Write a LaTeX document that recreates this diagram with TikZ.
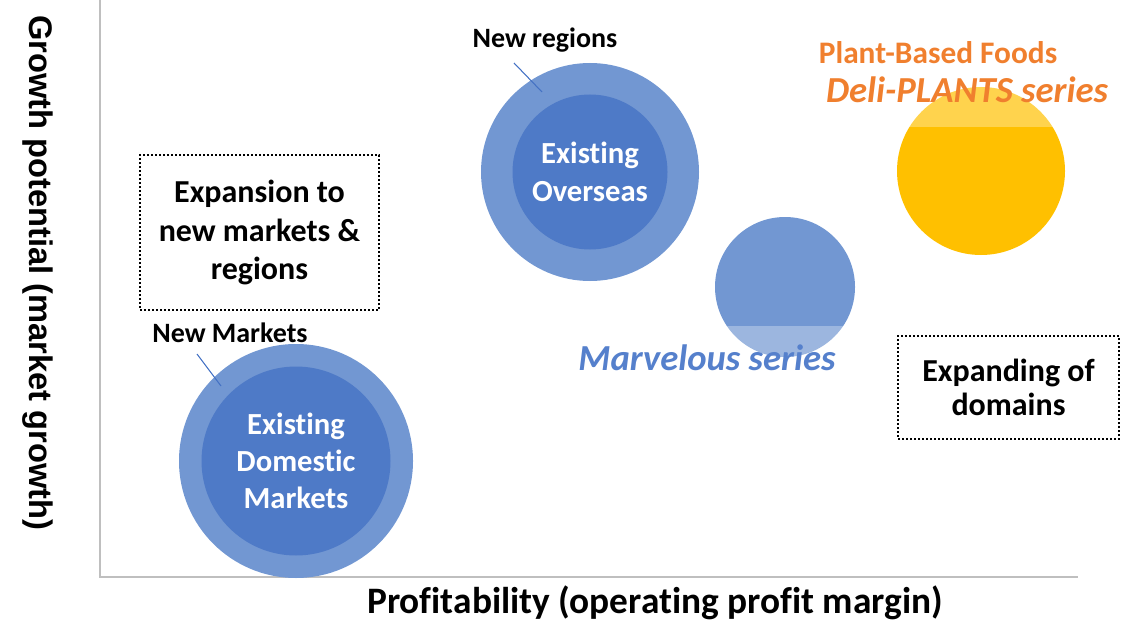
\documentclass[tikz,border=0pt]{standalone}
\usepackage{fontspec}
\setmainfont{Carlito}[Ligatures=NoCommon]
\newfontfamily\axisfont{Liberation Sans}

\definecolor{ringblue}{HTML}{7297D2}
\definecolor{coreblue}{HTML}{4E7AC7}
\definecolor{leadblue}{HTML}{4472C4}
\definecolor{seriesblue}{HTML}{5580CC}
\definecolor{plantorange}{HTML}{F07F2E}
\definecolor{plantyellow}{HTML}{FFC000}
\definecolor{axisgray}{HTML}{BFBFBF}

\tikzset{
    ring/.style={circle, fill=ringblue, inner sep=0pt},
    core/.style={circle, fill=coreblue, inner sep=0pt, text=white, align=center,
        font=\bfseries\fontsize{23}{28}\selectfont},
    tag/.style={inner sep=0pt, font=\bfseries\fontsize{21}{25}\selectfont},
    dotbox/.style={draw=black, line width=1.5pt, dash pattern=on 1.5pt off 1.5pt,
        align=center, inner sep=0pt},
    series/.style={fill=white, fill opacity=0.3, text opacity=1, inner ysep=0pt,
        inner xsep=8pt, font=\bfseries\itshape\fontsize{27.5}{32}\selectfont}
}

\begin{document}
\begin{tikzpicture}[x=0.75pt, y=-0.75pt]
    \useasboundingbox (0,0) rectangle (1127,624);

    % axes
    \coordinate (top) at (100,0);
    \coordinate (origin) at (100,577);
    \coordinate (xend) at (1078,577);
    \draw[axisgray, line width=1.5pt] (top) -- (origin) -- (xend);

    \node[rotate=-90, font=\axisfont\bfseries\fontsize{24.5}{28}\selectfont] (ylabel) at (38,273) {Growth potential (market growth)};
    \node[font=\bfseries\fontsize{28}{32}\selectfont] (xlabel) at (655,603) {Profitability (operating profit margin)};

    % overseas
    \node[ring, minimum size=163.5pt] (overring) at (590,172) {};
    \node[core, minimum size=116.25pt] (overcore) at (590,172) {Existing\\Overseas};
    \node[tag] (newreg) at (545,40) {New regions};
    \coordinate (regfrom) at (514,63);
    \coordinate (regto) at (542,92);
    \draw[leadblue, line width=0.8pt] (regfrom) -- (regto);

    % domestic
    \node[ring, minimum size=175.5pt] (domring) at (296,461) {};
    \node[core, minimum size=141.75pt] (domcore) at (296,461) {Existing\\Domestic\\Markets};
    \node[tag] (newmkt) at (230,333) {New Markets};
    \coordinate (mktfrom) at (197,354);
    \coordinate (mktto) at (221,386);
    \draw[leadblue, line width=0.8pt] (mktfrom) -- (mktto);

    % series
    \node[circle, fill=ringblue, minimum size=105pt, inner sep=0pt] (marv) at (785,287) {};
    \node[series, text=seriesblue, anchor=base, text height=33pt, text depth=4pt] (marvtxt) at (707,370) {Marvelous series};

    \node[circle, fill=plantyellow, minimum size=126pt, inner sep=0pt] (deli) at (981,171) {};
    \node[series, text=plantorange, anchor=base, text height=24pt, text depth=18pt] (delitxt) at (967,103) {Deli-PLANTS series};
    \node[font=\bfseries\fontsize{23.5}{27}\selectfont, text=plantorange] (plant) at (938,53) {Plant-Based Foods};

    % boxes
    \node[dotbox, minimum width=179.25pt, minimum height=116.25pt, font=\bfseries\fontsize{24}{29}\selectfont] (expbox) at (259.5,232.5) {Expansion to\\new markets \&\\regions};
    \node[dotbox, minimum width=165.75pt, minimum height=77.25pt, font=\bfseries\fontsize{24}{25}\selectfont] (domainbox) at (1008.5,387.5) {Expanding of\\domains};
\end{tikzpicture}
\end{document}
